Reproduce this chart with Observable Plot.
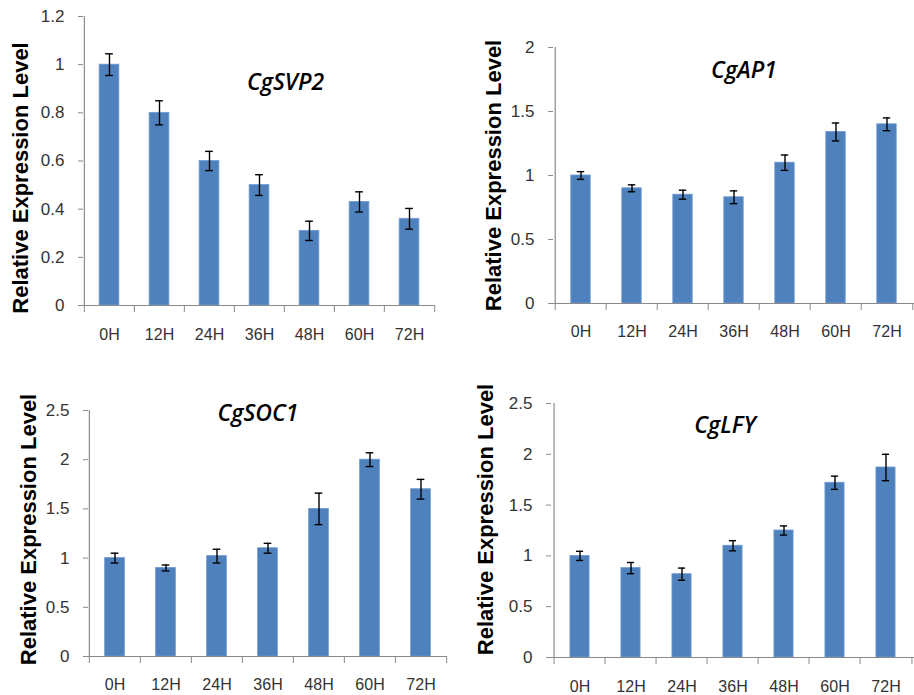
<!DOCTYPE html>
<html>
<head>
<meta charset="utf-8">
<script src="https://cdn.jsdelivr.net/npm/d3@7"></script>
<script src="https://cdn.jsdelivr.net/npm/@observablehq/plot@0.6"></script>
<style>
  html, body { margin: 0; padding: 0; background: #fff; }
  #root { position: relative; width: 914px; height: 695px; overflow: hidden; background: #fff; }
  .panel { position: absolute; }
  .panel svg { overflow: visible; }
</style>
</head>
<body>
<div id="root"></div>
<script>
// ---- data ----
const times = ["0H", "12H", "24H", "36H", "48H", "60H", "72H"];
const genes = ["CgSVP2", "CgAP1", "CgSOC1", "CgLFY"];
const yLabel = "Relative Expression Level";

const svp2 = [1.0, 0.8, 0.6, 0.5, 0.31, 0.43, 0.36];
const svp2Err = [0.045, 0.05, 0.04, 0.043, 0.04, 0.042, 0.043];
const ap1 = [1.0, 0.9, 0.85, 0.83, 1.1, 1.34, 1.4];
const ap1Err = [0.03, 0.027, 0.035, 0.05, 0.06, 0.07, 0.05];
const soc1 = [1.0, 0.9, 1.02, 1.1, 1.5, 2.0, 1.7];
const soc1Err = [0.05, 0.03, 0.07, 0.05, 0.16, 0.07, 0.1];
const lfy = [1.0, 0.88, 0.82, 1.1, 1.25, 1.72, 1.87];
const lfyErr = [0.045, 0.055, 0.06, 0.05, 0.045, 0.065, 0.13];

const yTicks1 = [0, 0.2, 0.4, 0.6, 0.8, 1, 1.2];
const yTicks2 = [0, 0.5, 1, 1.5, 2];
const yTicks3 = [0, 0.5, 1, 1.5, 2, 2.5];
const yTicks4 = [0, 0.5, 1, 1.5, 2, 2.5];

// ---- layout / style ----
const panels = [
  {gene: genes[0], values: svp2, errs: svp2Err, ticks: yTicks1,
   left: 0, top: 0, width: 457, height: 350, ml: 83, mr: 22, mt: 16, mb: 45,
   labDx: -63, labDy: 17, titDx: 26, titDy: 66, pad: 23},
  {gene: genes[1], values: ap1, errs: ap1Err, ticks: yTicks2,
   left: 460, top: 0, width: 454, height: 350, ml: 93, mr: 0, mt: 47, mb: 47,
   labDx: -60, labDy: 0, titDx: 10, titDy: 23, pad: 22},
  {gene: genes[2], values: soc1, errs: soc1Err, ticks: yTicks3,
   left: 0, top: 380, width: 457, height: 315, ml: 88, mr: 10, mt: 30, mb: 39,
   labDx: -60, labDy: -4, titDx: -10, titDy: 3, pad: 22},
  {gene: genes[3], values: lfy, errs: lfyErr, ticks: yTicks4,
   left: 460, top: 380, width: 454, height: 315, ml: 91, mr: 0, mt: 23, mb: 38,
   labDx: -66, labDy: -11, titDx: -8, titDy: 22, pad: 23}
];

const gray = "#8a8a8a";
const barColor = "#4f81bd";
const textColor = "#333333";
const font = "'Liberation Sans', Arial, sans-serif";

const root = document.getElementById("root");

for (const p of panels) {
  const rows = times.map((t, i) => ({t, v: p.values[i], e: p.errs[i]}));
  const bw = (p.width - p.ml - p.mr) / times.length;
  const inset = (bw - 20) / 2;
  const capInset = (bw - 8) / 2;
  const yMax = p.ticks[p.ticks.length - 1];

  const chart = Plot.plot({
    width: p.width,
    height: p.height,
    marginLeft: p.ml,
    marginRight: p.mr,
    marginTop: p.mt,
    marginBottom: p.mb,
    style: {fontFamily: font, background: "transparent", overflow: "visible"},
    x: {type: "band", domain: times, padding: 0},
    y: {domain: [0, yMax]},
    marks: [
      Plot.barY(rows, {x: "t", y: "v", fill: barColor, stroke: "#6f9bd1", strokeWidth: 0.8,
        insetLeft: inset, insetRight: inset}),
      Plot.ruleY([0], {stroke: gray, strokeWidth: 1.2}),
      Plot.ruleX([{t: times[0]}], {x: "t", dx: -bw / 2, y1: 0, y2: yMax, stroke: gray, strokeWidth: 1.2}),
      Plot.ruleX(rows, {x: "t", y1: d => d.v - d.e, y2: d => d.v + d.e, stroke: "#000", strokeWidth: 1.4}),
      Plot.tickY(rows, {x: "t", y: d => d.v + d.e, stroke: "#000", strokeWidth: 1.4,
        insetLeft: capInset, insetRight: capInset}),
      Plot.tickY(rows, {x: "t", y: d => d.v - d.e, stroke: "#000", strokeWidth: 1.4,
        insetLeft: capInset, insetRight: capInset}),
      Plot.axisY({ticks: p.ticks, tickFormat: d => String(d), tickSize: 5, tickPadding: 14,
        stroke: gray, fill: textColor, fontSize: 17, label: null}),
      Plot.axisX({tickSize: 0, tickPadding: p.pad, fill: textColor, fontSize: 16, label: null}),
      Plot.axisX(times, {tickSize: 7, tickFormat: () => "", dx: -bw / 2, stroke: gray, label: null}),
      Plot.axisX([times[times.length - 1]], {tickSize: 7, tickFormat: () => "", dx: bw / 2, stroke: gray, label: null}),
      Plot.text([yLabel], {text: d => d, frameAnchor: "left", textAnchor: "middle", lineAnchor: "middle",
        rotate: -90, dx: p.labDx, dy: p.labDy,
        fontSize: 22, fontWeight: "bold", fill: "#000", fontFamily: font}),
      Plot.text([p.gene], {text: d => d, frameAnchor: "top", textAnchor: "middle", lineAnchor: "middle",
        dx: p.titDx, dy: p.titDy,
        fontSize: 23, fontStyle: "italic", fontWeight: 600, fill: "#000",
        fontFamily: "'Open Sans', 'Noto Sans', sans-serif"})
    ]
  });

  const div = document.createElement("div");
  div.className = "panel";
  div.style.left = p.left + "px";
  div.style.top = p.top + "px";
  div.style.width = p.width + "px";
  div.style.height = p.height + "px";
  div.appendChild(chart);
  root.appendChild(div);
}
</script>
</body>
</html>
